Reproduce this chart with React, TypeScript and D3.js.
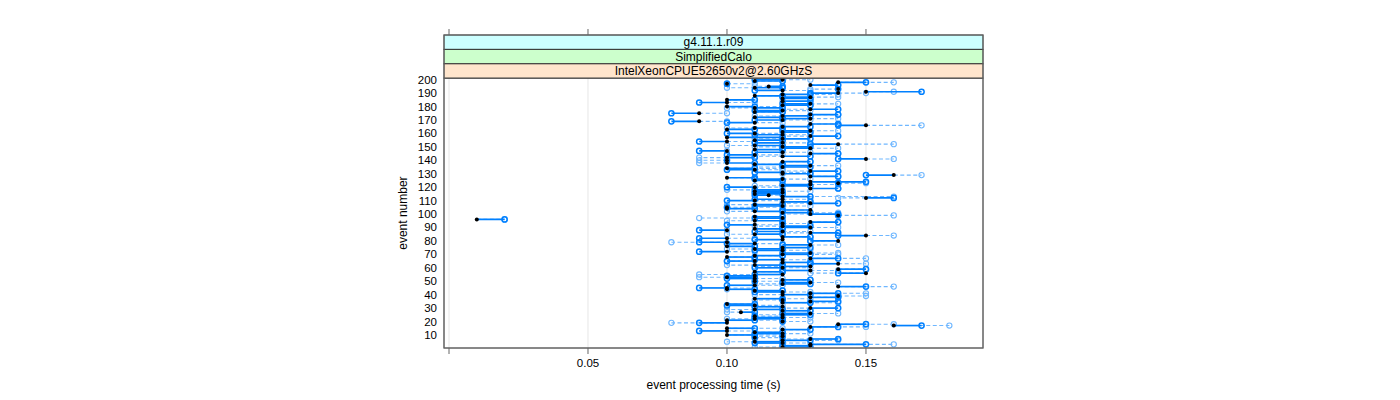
import React from "react";
import * as d3 from "d3";

// Strip labels (outer -> inner)
const stripLabels = ["g4.11.1.r09", "SimplifiedCalo", "IntelXeonCPUE52650v2@2.60GHzS"];
const stripColors = ["#ccffff", "#ccffcc", "#ffe5cc"];

const xTicks = [0, 0.05, 0.1, 0.15];
const xTickLabels = ["", "0.05", "0.10", "0.15"];
const yTicks = [10, 20, 30, 40, 50, 60, 70, 80, 90, 100, 110, 120, 130, 140, 150, 160, 170, 180, 190, 200];

const eventNumber = d3.range(1, 201);

// black filled points (time, s) per event
const blackTime = [
  0.12, 0.13, 0.13, 0.12, 0.11, 0.12, 0.13, 0.11, 0.12, 0.10,
  0.12, 0.11, 0.10, 0.12, 0.10, 0.13, 0.16, 0.14, 0.10, 0.12,
  0.10, 0.11, 0.12, 0.11, 0.12, 0.13, 0.105, 0.12, 0.11, 0.13,
  0.12, 0.11, 0.10, 0.12, 0.13, 0.12, 0.11, 0.13, 0.14, 0.12,
  0.13, 0.12, 0.11, 0.10, 0.10, 0.14, 0.11, 0.12, 0.13, 0.11,
  0.12, 0.11, 0.10, 0.11, 0.12, 0.15, 0.11, 0.13, 0.14, 0.12,
  0.13, 0.11, 0.14, 0.12, 0.11, 0.12, 0.13, 0.10, 0.11, 0.12,
  0.13, 0.10, 0.12, 0.11, 0.12, 0.10, 0.13, 0.11, 0.10, 0.14,
  0.12, 0.10, 0.12, 0.15, 0.11, 0.13, 0.12, 0.10, 0.11, 0.13,
  0.12, 0.11, 0.12, 0.13, 0.11, 0.01, 0.12, 0.11, 0.14, 0.13,
  0.12, 0.11, 0.13, 0.10, 0.10, 0.12, 0.11, 0.13, 0.12, 0.11,
  0.12, 0.15, 0.12, 0.115, 0.11, 0.12, 0.11, 0.12, 0.13, 0.11,
  0.12, 0.13, 0.14, 0.13, 0.11, 0.12, 0.10, 0.13, 0.16, 0.12,
  0.12, 0.13, 0.11, 0.10, 0.12, 0.13, 0.11, 0.10, 0.12, 0.10,
  0.15, 0.10, 0.12, 0.11, 0.13, 0.12, 0.10, 0.11, 0.13, 0.12,
  0.11, 0.14, 0.12, 0.10, 0.11, 0.12, 0.10, 0.13, 0.12, 0.11,
  0.12, 0.13, 0.10, 0.11, 0.12, 0.15, 0.13, 0.11, 0.09, 0.12,
  0.13, 0.11, 0.12, 0.13, 0.09, 0.11, 0.12, 0.13, 0.11, 0.10,
  0.12, 0.13, 0.10, 0.12, 0.10, 0.12, 0.13, 0.11, 0.12, 0.14,
  0.15, 0.12, 0.14, 0.11, 0.115, 0.13, 0.10, 0.14, 0.11, 0.12,
];

// dark blue open circles (solid segment from black point)
const solidTime = [
  0.13, 0.12, 0.15, 0.11, 0.12, 0.13, 0.14, 0.11, 0.12, 0.11,
  0.11, 0.12, 0.09, 0.13, 0.11, 0.14, 0.17, 0.15, 0.09, 0.12,
  0.11, 0.12, 0.11, 0.11, 0.13, 0.12, 0.11, 0.13, 0.12, 0.14,
  0.11, 0.10, 0.11, 0.13, 0.14, 0.12, 0.12, 0.14, 0.14, 0.13,
  0.14, 0.11, 0.12, 0.11, 0.09, 0.15, 0.10, 0.13, 0.12, 0.11,
  0.13, 0.10, 0.11, 0.10, 0.11, 0.14, 0.12, 0.12, 0.15, 0.11,
  0.12, 0.12, 0.13, 0.13, 0.10, 0.11, 0.14, 0.11, 0.12, 0.13,
  0.12, 0.09, 0.11, 0.12, 0.13, 0.11, 0.12, 0.10, 0.09, 0.13,
  0.11, 0.09, 0.13, 0.14, 0.12, 0.14, 0.11, 0.09, 0.12, 0.12,
  0.13, 0.10, 0.12, 0.14, 0.12, 0.02, 0.11, 0.12, 0.14, 0.14,
  0.13, 0.12, 0.12, 0.11, 0.10, 0.11, 0.12, 0.14, 0.13, 0.10,
  0.11, 0.16, 0.13, 0.11, 0.12, 0.11, 0.12, 0.11, 0.14, 0.10,
  0.13, 0.12, 0.14, 0.15, 0.12, 0.11, 0.11, 0.14, 0.15, 0.13,
  0.11, 0.14, 0.10, 0.11, 0.13, 0.12, 0.12, 0.11, 0.13, 0.10,
  0.14, 0.11, 0.13, 0.10, 0.14, 0.11, 0.09, 0.12, 0.12, 0.13,
  0.12, 0.13, 0.11, 0.09, 0.12, 0.13, 0.12, 0.14, 0.11, 0.10,
  0.13, 0.12, 0.11, 0.12, 0.13, 0.14, 0.14, 0.10, 0.08, 0.11,
  0.12, 0.12, 0.13, 0.14, 0.08, 0.12, 0.11, 0.14, 0.12, 0.11,
  0.13, 0.12, 0.09, 0.13, 0.11, 0.13, 0.12, 0.12, 0.13, 0.13,
  0.17, 0.11, 0.14, 0.12, 0.12, 0.14, 0.10, 0.15, 0.12, 0.11,
];

// light blue open circles (dashed segment from black point)
const dashTime = [
  0.11, 0.12, 0.16, 0.13, 0.10, 0.14, 0.12, 0.12, 0.11, 0.12,
  0.13, 0.12, 0.11, 0.13, 0.12, 0.15, 0.18, 0.16, 0.08, 0.13,
  0.12, 0.10, 0.13, 0.12, 0.11, 0.14, 0.10, 0.13, 0.10, 0.12,
  0.11, 0.12, 0.11, 0.14, 0.13, 0.11, 0.13, 0.14, 0.15, 0.11,
  0.15, 0.13, 0.12, 0.10, 0.11, 0.16, 0.12, 0.11, 0.14, 0.12,
  0.13, 0.12, 0.09, 0.10, 0.09, 0.13, 0.12, 0.14, 0.15, 0.13,
  0.11, 0.10, 0.15, 0.12, 0.10, 0.13, 0.15, 0.11, 0.12, 0.14,
  0.14, 0.11, 0.13, 0.10, 0.12, 0.11, 0.14, 0.12, 0.08, 0.13,
  0.11, 0.11, 0.13, 0.16, 0.10, 0.12, 0.13, 0.10, 0.12, 0.14,
  0.11, 0.12, 0.13, 0.14, 0.10, 0.02, 0.09, 0.12, 0.16, 0.12,
  0.14, 0.10, 0.12, 0.11, 0.12, 0.13, 0.10, 0.12, 0.13, 0.12,
  0.13, 0.14, 0.16, 0.12, 0.12, 0.11, 0.13, 0.10, 0.14, 0.12,
  0.11, 0.14, 0.15, 0.14, 0.12, 0.13, 0.11, 0.14, 0.17, 0.12,
  0.13, 0.12, 0.12, 0.12, 0.11, 0.14, 0.12, 0.09, 0.13, 0.09,
  0.16, 0.09, 0.11, 0.12, 0.14, 0.13, 0.10, 0.12, 0.14, 0.11,
  0.10, 0.16, 0.13, 0.11, 0.12, 0.11, 0.11, 0.12, 0.13, 0.12,
  0.13, 0.14, 0.11, 0.10, 0.12, 0.17, 0.14, 0.12, 0.10, 0.13,
  0.14, 0.12, 0.11, 0.14, 0.10, 0.12, 0.13, 0.12, 0.10, 0.12,
  0.13, 0.14, 0.11, 0.12, 0.11, 0.13, 0.14, 0.12, 0.14, 0.15,
  0.16, 0.13, 0.13, 0.10, 0.11, 0.14, 0.11, 0.16, 0.12, 0.13,
];

const FONT = "'Liberation Sans', Arial, Helvetica, sans-serif";
const DARK = "#0080ff";
const LIGHT = "#6fb7ff";

export default function App() {
  const W = 1400;
  const H = 400;
  const left = 444;
  const right = 983;
  const stripTop = 35;
  const stripH = 14.4;
  const panelTop = stripTop + stripH * 3;
  const bottom = 348;

  const x = d3.scaleLinear().domain([-0.0018, 0.1921]).range([left, right]);
  const y = d3.scaleLinear().domain([0.3, 201.1]).range([bottom, panelTop]);

  const rows = eventNumber.map((e, i) => ({
    e,
    b: blackTime[i],
    s: solidTime[i],
    d: dashTime[i],
  }));

  return (
    <svg width={W} height={H} style={{ display: "block", position: "absolute", left: 0, top: 0 }} fontFamily={FONT}>
      <rect x={0} y={0} width={W} height={H} fill="#fff" />
      {/* grid */}
      {xTicks.map((t) => (
        <line key={"g" + t} x1={x(t)} x2={x(t)} y1={panelTop} y2={bottom} stroke="#e6e6e6" strokeWidth={1} />
      ))}
      <defs>
        <clipPath id="panelClip">
          <rect x={left} y={panelTop} width={right - left} height={bottom - panelTop} />
        </clipPath>
      </defs>
      <g clipPath="url(#panelClip)">
        {/* dashed light segments */}
        {rows.map((r) => (
          <line
            key={"dl" + r.e}
            x1={x(r.b)}
            x2={x(r.d)}
            y1={y(r.e)}
            y2={y(r.e)}
            stroke={LIGHT}
            strokeWidth={1.1}
            strokeDasharray="4,2.5"
          />
        ))}
        {/* light circles */}
        {rows.map((r) => (
          <circle key={"lc" + r.e} cx={x(r.d)} cy={y(r.e)} r={2.6} fill="none" stroke={LIGHT} strokeWidth={1.1} />
        ))}
        {/* solid dark segments */}
        {rows.map((r) => (
          <line key={"sl" + r.e} x1={x(r.b)} x2={x(r.s)} y1={y(r.e)} y2={y(r.e)} stroke={DARK} strokeWidth={1.7} />
        ))}
        {/* dark circles */}
        {rows.map((r) => (
          <circle key={"dc" + r.e} cx={x(r.s)} cy={y(r.e)} r={2.6} fill="none" stroke={DARK} strokeWidth={1.5} />
        ))}
        {/* black points */}
        {rows.map((r) => (
          <circle key={"bp" + r.e} cx={x(r.b)} cy={y(r.e)} r={2.0} fill="#000" />
        ))}
      </g>

      {/* strips */}
      {stripLabels.map((lab, i) => (
        <g key={lab}>
          <rect
            x={left}
            y={stripTop + i * stripH}
            width={right - left}
            height={stripH}
            fill={stripColors[i]}
            stroke="#333"
            strokeWidth={1}
          />
          <text
            x={(left + right) / 2}
            y={stripTop + i * stripH + stripH / 2 + 4.2}
            textAnchor="middle"
            fontSize={12}
            fill="#000"
          >
            {lab}
          </text>
        </g>
      ))}

      {/* panel frame */}
      <rect x={left} y={panelTop} width={right - left} height={bottom - panelTop} fill="none" stroke="#555" strokeWidth={1} />
      <rect x={left} y={stripTop} width={right - left} height={bottom - stripTop} fill="none" stroke="#666" strokeWidth={1} />

      {/* x ticks top and bottom */}
      {xTicks.map((t, i) => (
        <g key={"xt" + t}>
          <line x1={x(t)} x2={x(t)} y1={stripTop - 6} y2={stripTop} stroke="#666" />
          <line x1={x(t)} x2={x(t)} y1={bottom} y2={bottom + 6} stroke="#666" />
          <text x={x(t)} y={bottom + 19} textAnchor="middle" fontSize={11.5} fill="#000">
            {xTickLabels[i]}
          </text>
        </g>
      ))}

      {/* y labels */}
      {yTicks.map((t) => (
        <text key={"yt" + t} x={437} y={y(t) + 4} textAnchor="end" fontSize={11.5} fill="#000">
          {t}
        </text>
      ))}

      {/* axis titles */}
      <text x={(left + right) / 2} y={389} textAnchor="middle" fontSize={12} fill="#000">
        event processing time (s)
      </text>
      <text
        transform={`translate(407, ${(panelTop + bottom) / 2}) rotate(-90)`}
        textAnchor="middle"
        fontSize={12}
        fill="#000"
      >
        event number
      </text>
    </svg>
  );
}
